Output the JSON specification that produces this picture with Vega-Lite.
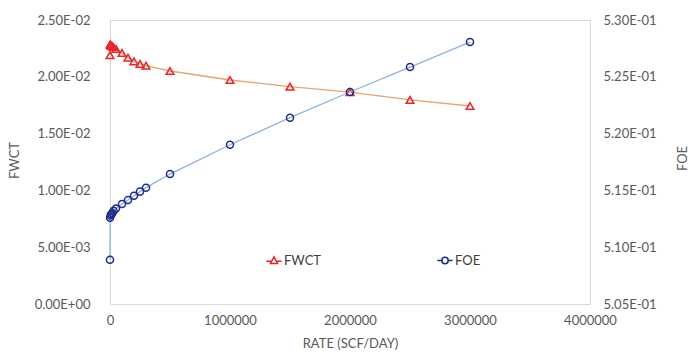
{
  "$schema": "https://vega.github.io/schema/vega-lite/v6.json",
  "width": 480,
  "height": 284,
  "autosize": {"type": "none"},
  "padding": {"left": 110, "top": 20, "right": 98, "bottom": 49},
  "data": {
    "values": [
      {"rate": 0, "series": "FWCT", "value": 0.0219},
      {"rate": 1000, "series": "FWCT", "value": 0.02285},
      {"rate": 5000, "series": "FWCT", "value": 0.0228},
      {"rate": 10000, "series": "FWCT", "value": 0.02275},
      {"rate": 20000, "series": "FWCT", "value": 0.02268},
      {"rate": 30000, "series": "FWCT", "value": 0.0226},
      {"rate": 50000, "series": "FWCT", "value": 0.02245},
      {"rate": 100000, "series": "FWCT", "value": 0.0221},
      {"rate": 150000, "series": "FWCT", "value": 0.02168},
      {"rate": 200000, "series": "FWCT", "value": 0.02136},
      {"rate": 250000, "series": "FWCT", "value": 0.02113},
      {"rate": 300000, "series": "FWCT", "value": 0.02098},
      {"rate": 500000, "series": "FWCT", "value": 0.02051},
      {"rate": 1000000, "series": "FWCT", "value": 0.01972},
      {"rate": 1500000, "series": "FWCT", "value": 0.01913},
      {"rate": 2000000, "series": "FWCT", "value": 0.01866},
      {"rate": 2500000, "series": "FWCT", "value": 0.01796},
      {"rate": 3000000, "series": "FWCT", "value": 0.01743},
      {"rate": 0, "series": "FOE", "value": 0.5089},
      {"rate": 1000, "series": "FOE", "value": 0.5126},
      {"rate": 5000, "series": "FOE", "value": 0.5128},
      {"rate": 10000, "series": "FOE", "value": 0.5129},
      {"rate": 20000, "series": "FOE", "value": 0.513},
      {"rate": 30000, "series": "FOE", "value": 0.5132},
      {"rate": 50000, "series": "FOE", "value": 0.5134},
      {"rate": 100000, "series": "FOE", "value": 0.5138},
      {"rate": 150000, "series": "FOE", "value": 0.51415},
      {"rate": 200000, "series": "FOE", "value": 0.51453},
      {"rate": 250000, "series": "FOE", "value": 0.51489},
      {"rate": 300000, "series": "FOE", "value": 0.51524},
      {"rate": 500000, "series": "FOE", "value": 0.51644},
      {"rate": 1000000, "series": "FOE", "value": 0.51902},
      {"rate": 1500000, "series": "FOE", "value": 0.5214},
      {"rate": 2000000, "series": "FOE", "value": 0.52366},
      {"rate": 2500000, "series": "FOE", "value": 0.52586},
      {"rate": 3000000, "series": "FOE", "value": 0.52806}
    ]
  },
  "encoding": {
    "x": {
      "field": "rate",
      "type": "quantitative",
      "scale": {"domain": [0, 4000000], "nice": false},
      "axis": {
        "title": "RATE (SCF/DAY)",
        "values": [0, 1000000, 2000000, 3000000, 4000000],
        "format": "d",
        "ticks": false,
        "domain": false,
        "grid": false,
        "labelFlush": false,
        "labelPadding": 10,
        "titlePadding": 10
      }
    }
  },
  "layer": [
    {
      "transform": [{"filter": "datum.series === 'FWCT'"}],
      "encoding": {
        "y": {
          "field": "value",
          "type": "quantitative",
          "scale": {"domain": [0, 0.025], "nice": false, "zero": false},
          "axis": {
            "title": "FWCT",
            "orient": "left",
            "values": [0, 0.005, 0.01, 0.015, 0.02, 0.025],
            "labelExpr": "replace(replace(upper(format(datum.value, '.2e')), 'E-', 'E-0'), 'E+', 'E+0')",
            "ticks": false,
            "domain": false,
            "grid": false,
            "labelPadding": 20,
            "titleAngle": -90,
            "titleAlign": "center",
            "titleBaseline": "middle",
            "titleX": -96,
            "titleY": 140
          }
        }
      },
      "layer": [
        {"mark": {"type": "line", "color": "#E8A46C", "strokeWidth": 1.3}, "encoding": {}},
        {
          "mark": {"type": "point", "shape": "triangle-up", "filled": false, "size": 60, "strokeWidth": 1.5, "opacity": 1},
          "encoding": {
            "stroke": {
              "field": "series",
              "type": "nominal",
              "scale": {"domain": ["FWCT"], "range": ["#E8262B"]},
              "legend": {
                "orient": "none",
                "legendX": 157.5,
                "legendY": 234,
                "title": null,
                "symbolType": "M0,-0.9L0.9,0.75L-0.9,0.75ZM-1.9,0.2H-0.6M0.6,0.2H1.9",
                "symbolSize": 64,
                "symbolStrokeWidth": 1.5,
                "labelOffset": 3.5,
                "labelFontSize": 13,
                "labelColor": "#404040"
              }
            }
          }
        }
      ]
    },
    {
      "transform": [{"filter": "datum.series === 'FOE'"}],
      "encoding": {
        "y": {
          "field": "value",
          "type": "quantitative",
          "scale": {"domain": [0.505, 0.53], "nice": false, "zero": false},
          "axis": {
            "title": "FOE",
            "orient": "right",
            "values": [0.505, 0.51, 0.515, 0.52, 0.525, 0.53],
            "labelExpr": "replace(replace(upper(format(datum.value, '.2e')), 'E-', 'E-0'), 'E+', 'E+0')",
            "ticks": false,
            "domain": false,
            "grid": false,
            "labelPadding": 13,
            "titleAngle": -90,
            "titleAlign": "center",
            "titleBaseline": "middle",
            "titleX": 92,
            "titleY": 138
          }
        }
      },
      "layer": [
        {"mark": {"type": "line", "color": "#8DB3DF", "strokeWidth": 1.3}, "encoding": {}},
        {
          "mark": {"type": "point", "shape": "circle", "filled": false, "size": 50, "strokeWidth": 1.5, "opacity": 1},
          "encoding": {
            "color": {
              "field": "series",
              "type": "nominal",
              "scale": {"domain": ["FOE"], "range": ["#1F2A8C"]},
              "legend": {
                "orient": "none",
                "legendX": 328.5,
                "legendY": 234,
                "title": null,
                "symbolType": "M0.8,0A0.8,0.8 0 1,1 -0.8,0A0.8,0.8 0 1,1 0.8,0ZM-1.9,0H-0.8M0.8,0H1.9",
                "symbolSize": 64,
                "symbolStrokeWidth": 1.5,
                "labelOffset": 3.5,
                "labelFontSize": 13,
                "labelColor": "#404040"
              }
            }
          }
        }
      ]
    }
  ],
  "resolve": {"scale": {"y": "independent"}},
  "config": {
    "font": "Lato",
    "view": {"stroke": "#D9D9D9"},
    "axis": {
      "labelFont": "Lato",
      "labelFontSize": 13,
      "labelColor": "#595959",
      "titleFont": "Lato",
      "titleFontSize": 13,
      "titleFontWeight": "normal",
      "titleColor": "#595959"
    },
    "legend": {"labelFont": "Lato"}
  }
}
